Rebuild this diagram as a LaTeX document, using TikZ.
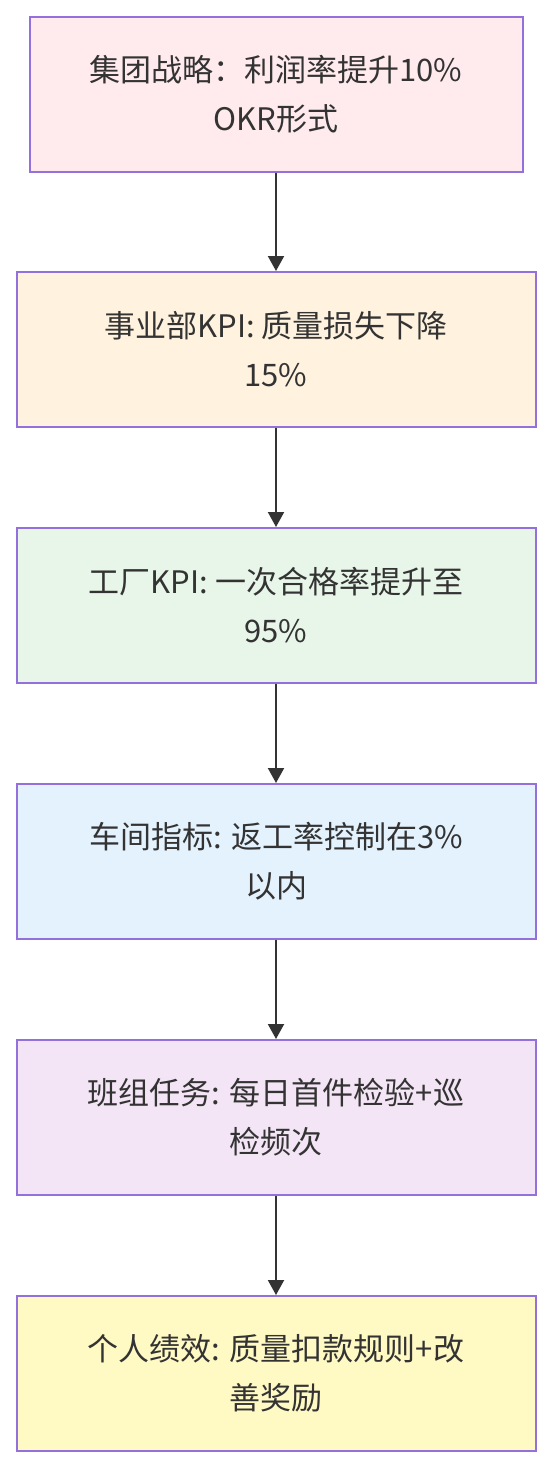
\documentclass[tikz,border=0pt]{standalone}
\usepackage{fontspec}
\setmainfont{Noto Sans CJK SC}
\usepackage{tikz}
\usetikzlibrary{arrows.meta}

\definecolor{edge}{HTML}{9370DB}
\definecolor{ink}{HTML}{333333}
\definecolor{pinkbg}{HTML}{FFEBEE}
\definecolor{orangebg}{HTML}{FFF3E0}
\definecolor{greenbg}{HTML}{E8F5E9}
\definecolor{bluebg}{HTML}{E3F2FD}
\definecolor{purplebg}{HTML}{F3E5F5}
\definecolor{yellowbg}{HTML}{FFF9C4}

\begin{document}
\begin{tikzpicture}[x=1pt,y=-1pt,
	box/.style={draw=edge, line width=2pt, minimum height=155pt, align=center, text=ink, inner sep=0pt, font=\fontsize{31}{49}\selectfont},
	arr/.style={draw=ink, line width=2pt, -{Triangle[length=15pt,width=16pt]}}]
				\useasboundingbox (0,0) rectangle (552,1468);
				
				% top level (narrower box)
				\node[box, fill=pinkbg, minimum width=493pt] (S) at (276,94) {集团战略：利润率提升10\%\\OKR形式};
				
				% lower levels
				\foreach \x/\y/\c/\lbl in
				{B/349.5/orangebg/{事业部KPI: 质量损失下降\\15\%},
				 F/605.5/greenbg/{工厂KPI: 一次合格率提升至\\95\%},
				 W/861.5/bluebg/{车间指标: 返工率控制在3\%\\以内},
				 T/1117.5/purplebg/{班组任务: 每日首件检验+巡\\检频次},
				 P/1373.5/yellowbg/{个人绩效: 质量扣款规则+改\\善奖励}}{
					\node[box, fill=\c, minimum width=519pt] (\x) at (276,\y) {\lbl};
				}
				
				\foreach \x/\y in
				{S/B,B/F,F/W,W/T,T/P}{
					\draw[arr] (\x)--(\y);
				}
			\end{tikzpicture}
\end{document}
